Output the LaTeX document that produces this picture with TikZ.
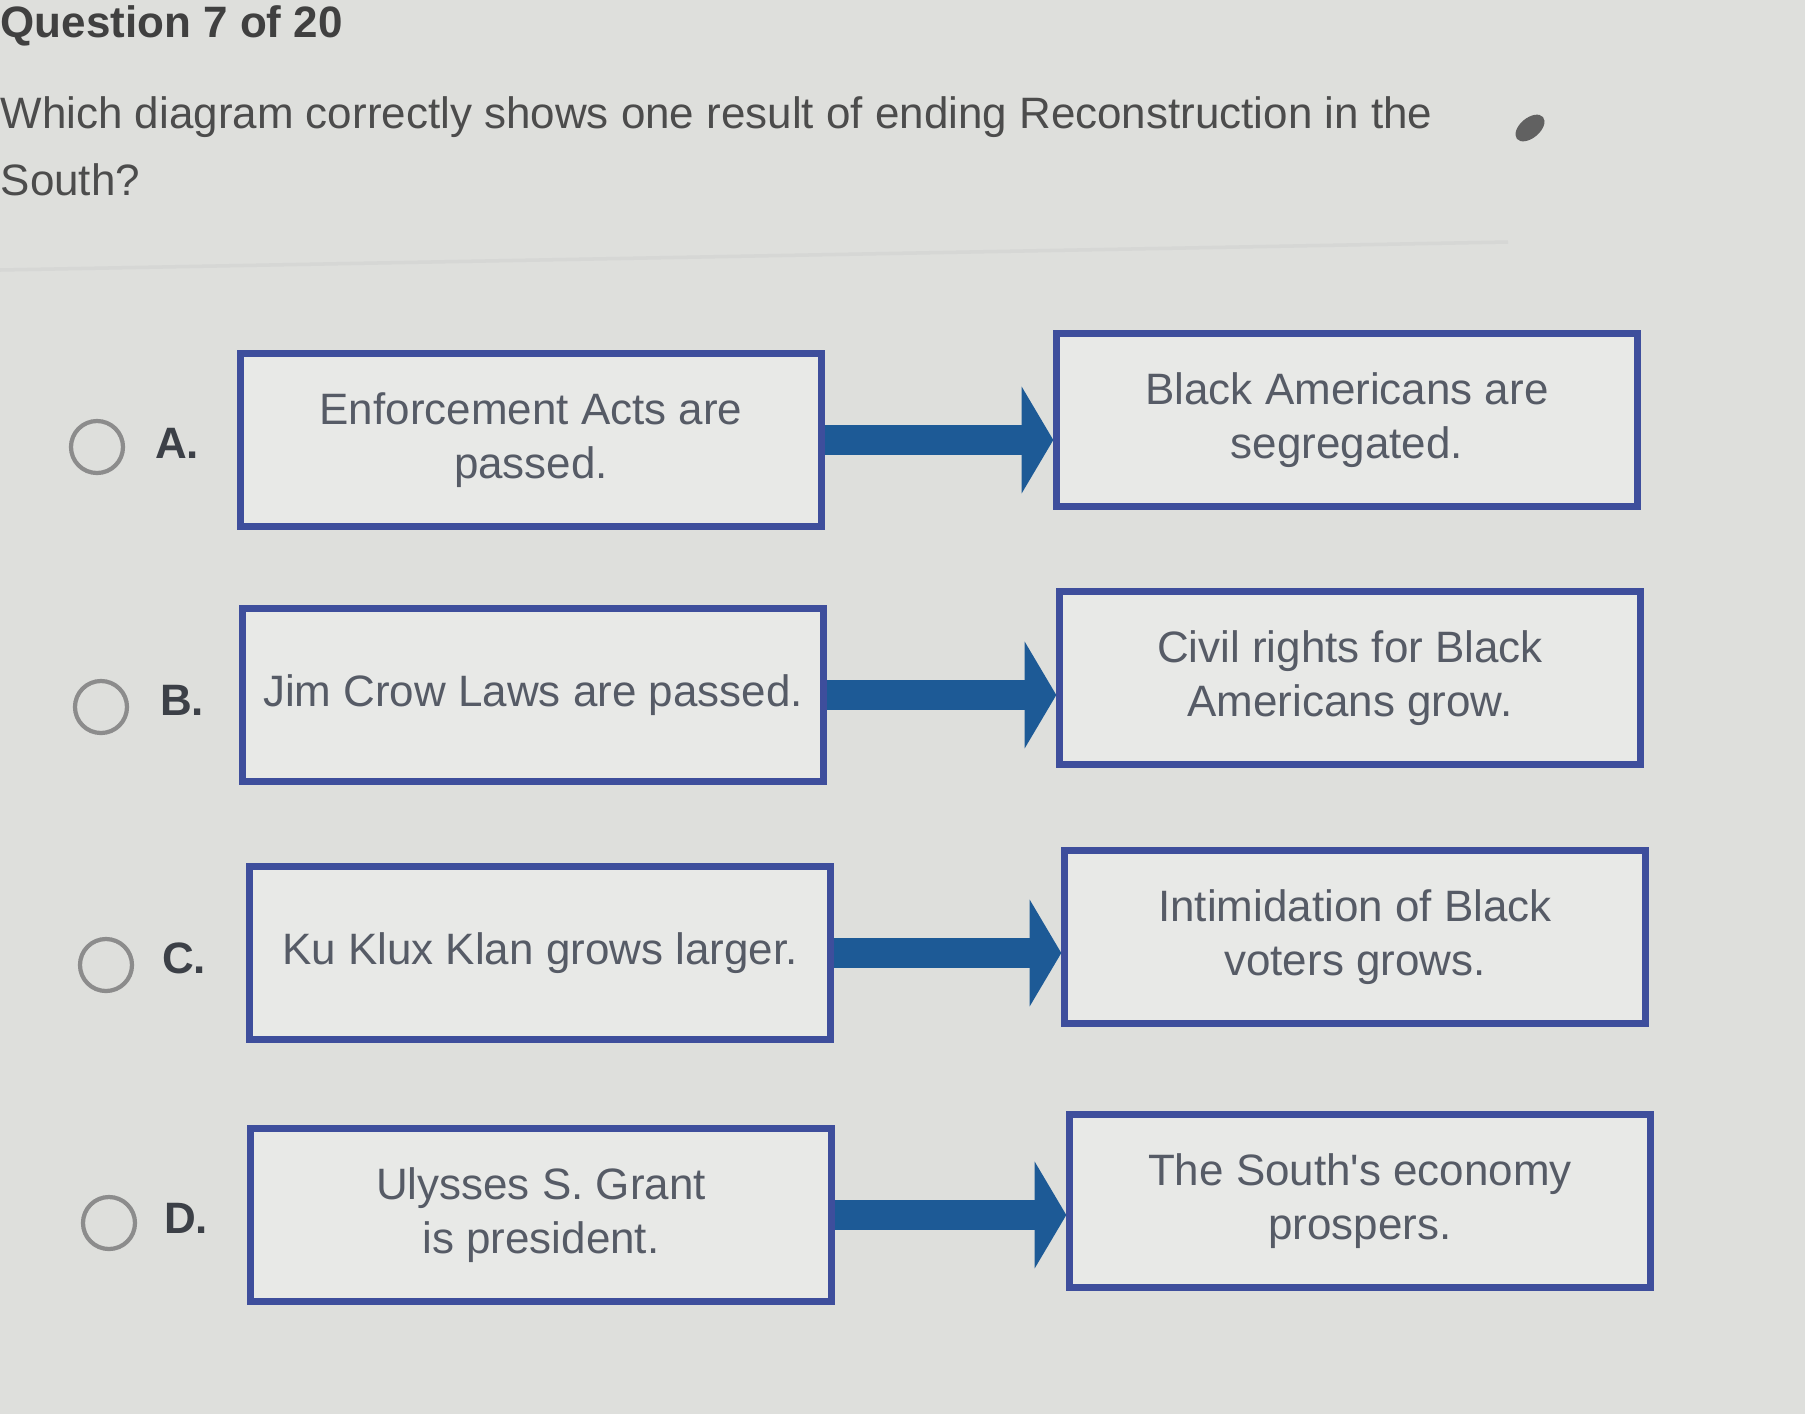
\documentclass[tikz,border=0pt]{standalone}
\usepackage{fontspec}
\setmainfont{Liberation Sans}
\usetikzlibrary{arrows.meta}

\definecolor{pagebg}{HTML}{DEDFDC}
\definecolor{boxfill}{HTML}{E8E9E7}
\definecolor{boxline}{HTML}{3E4E9C}
\definecolor{arrowblue}{HTML}{1D5A96}
\definecolor{textgray}{HTML}{565B66}
\definecolor{radiogray}{HTML}{8C8C8C}

\begin{document}
\begin{tikzpicture}[x=0.01cm, y=-0.01cm,
	box/.style={draw=boxline, line width=2pt, fill=boxfill, minimum width=5.8cm, minimum height=1.72cm, align=center, text=textgray, font=\fontsize{12.5}{15.4}\selectfont},
	radio/.style={circle, draw=radiogray, line width=1.2pt, minimum size=0.52cm, inner sep=0pt},
	choice/.style={font=\bfseries\fontsize{12.5}{15}\selectfont, text=textgray!70!black},
	result/.style={-{Triangle[length=9pt, width=30pt]}, line width=8.5pt, draw=arrowblue}]
	
	\fill[pagebg] (0,0) rectangle (1805,1414);
	\useasboundingbox (0,0) rectangle (1805,1414);
	
	\node[anchor=west, inner sep=0pt, text=black!75, font=\bfseries\fontsize{12.5}{15}\selectfont] (Title) at (0,26) {Question 7 of 20};
	\node[anchor=west, inner sep=0pt, align=left, text=black!70, font=\fontsize{12.5}{19}\selectfont] (Question) at (0,146)
	{Which diagram correctly shows one result of ending Reconstruction in the\\South?};
	\fill[black!62, rotate around={40:(1530,128)}] (1530,128) ellipse (17 and 10);
	\draw[pagebg!92!gray, line width=1pt] (0,270) -- (1508,242);
	
	\node[radio] (RadA) at (97,447) {};
	\node[choice] (LetA) at (177,443) {A.};
	\node[box] (EnfActs) at (531,440) {Enforcement Acts are\\passed.};
	\node[box] (Segregated) at (1347,420) {Black Americans are\\segregated.};
	\draw[result] (EnfActs.east) -- (EnfActs.east -| Segregated.west);
	
	\node[radio] (RadB) at (101,707) {};
	\node[choice] (LetB) at (182,700) {B.};
	\node[box] (JimCrow) at (533,695) {Jim Crow Laws are passed.};
	\node[box] (CivilRights) at (1350,678) {Civil rights for Black\\Americans grow.};
	\draw[result] (JimCrow.east) -- (JimCrow.east -| CivilRights.west);
	
	\node[radio] (RadC) at (106,965) {};
	\node[choice] (LetC) at (184,958) {C.};
	\node[box] (KKK) at (540,953) {Ku Klux Klan grows larger.};
	\node[box] (Intimidation) at (1355,937) {Intimidation of Black\\voters grows.};
	\draw[result] (KKK.east) -- (KKK.east -| Intimidation.west);
	
	\node[radio] (RadD) at (109,1223) {};
	\node[choice] (LetD) at (186,1218) {D.};
	\node[box] (Grant) at (541,1215) {Ulysses S. Grant\\is president.};
	\node[box] (Economy) at (1360,1201) {The South\textquotesingle s economy\\prospers.};
	\draw[result] (Grant.east) -- (Grant.east -| Economy.west);
	
\end{tikzpicture}
\end{document}
